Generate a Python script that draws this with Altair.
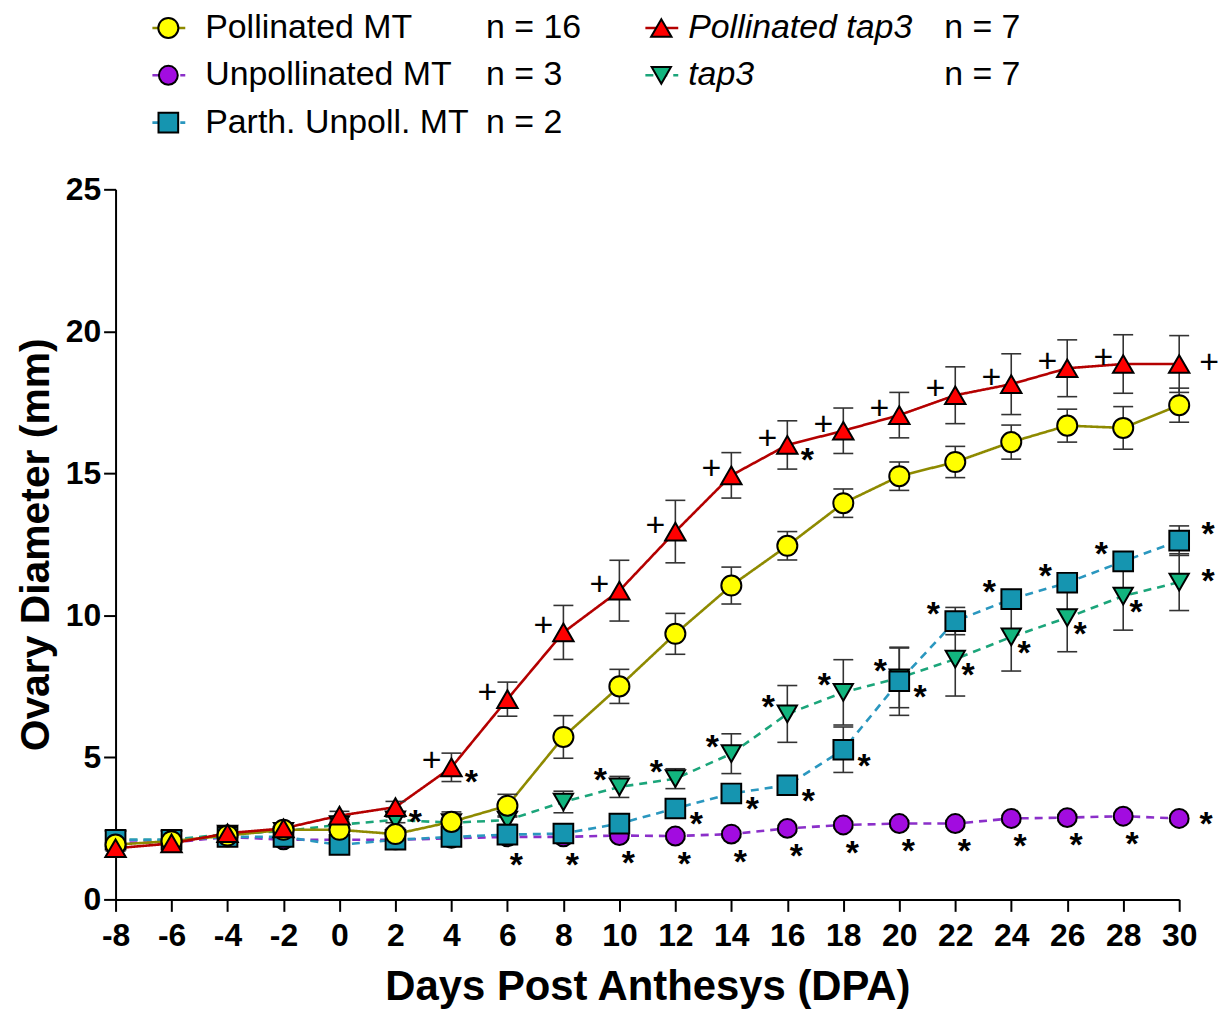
import altair as alt
import pandas as pd

# ---------------- data ----------------
dpa = list(range(-8, 31, 2))

series_names = ["Unpollinated MT", "tap3", "Parth. Unpoll. MT", "Pollinated MT", "Pollinated tap3"]

pollinated_mt = [1.93, 2.05, 2.25, 2.45, 2.45, 2.3, 2.73, 3.3, 5.72, 7.5, 9.35, 11.05, 12.45, 13.95, 14.9, 15.4, 16.1, 16.68, 16.6, 17.4]
pollinated_mt_err = [0.1, 0.1, 0.1, 0.1, 0.1, 0.2, 0.35, 0.4, 0.75, 0.6, 0.72, 0.65, 0.5, 0.5, 0.5, 0.55, 0.6, 0.58, 0.75, 0.6]

unpollinated_mt = [2.0, 2.0, 2.2, 2.1, 2.1, 2.1, 2.15, 2.2, 2.2, 2.25, 2.23, 2.3, 2.5, 2.62, 2.67, 2.67, 2.85, 2.88, 2.93, 2.85]
unpollinated_mt_err = [0.1] * 20

parth_mt = [2.1, 2.1, 2.2, 2.2, 1.92, 2.1, 2.2, 2.28, 2.32, 2.67, 3.2, 3.73, 4.02, 5.27, 7.68, 9.8, 10.57, 11.15, 11.9, 12.63]
parth_mt_err = [0.1, 0.1, 0.1, 0.1, 0.1, 0.1, 0.1, 0.1, 0.1, 0.15, 0.25, 0.2, 0.2, 0.8, 1.2, 0.48, 0.2, 0.2, 0.2, 0.52]

pollinated_tap3 = [1.8, 1.97, 2.33, 2.5, 2.95, 3.25, 4.65, 7.05, 9.4, 10.87, 12.95, 14.93, 16.0, 16.5, 17.05, 17.75, 18.14, 18.7, 18.85, 18.85]
pollinated_tap3_err = [0.1, 0.1, 0.1, 0.1, 0.15, 0.2, 0.5, 0.6, 0.95, 1.07, 1.1, 0.8, 0.85, 0.8, 0.8, 1.0, 1.07, 1.0, 1.03, 1.0]

tap3 = [2.1, 2.1, 2.3, 2.4, 2.63, 2.8, 2.7, 2.79, 3.43, 3.96, 4.25, 5.13, 6.53, 7.29, 7.8, 8.46, 9.24, 9.92, 10.68, 11.17]
tap3_err = [0.1, 0.1, 0.1, 0.1, 0.1, 0.1, 0.1, 0.15, 0.38, 0.37, 0.35, 0.7, 1.0, 1.15, 1.05, 1.3, 1.2, 1.2, 1.2, 1.0]

n_labels = {"Pollinated MT": "n = 16", "Unpollinated MT": "n = 3", "Parth. Unpoll. MT": "n = 2",
            "Pollinated tap3": "n = 7", "tap3": "n = 7"}

# annotation groups (DPA lists)
plus_tap3_ul = [4, 6, 8, 10, 12, 14, 16, 18, 20, 22, 24, 26, 28]
plus_tap3_r = [30]
star_tap3_lr = [2, 4, 16]
star_unpoll_b = [6, 8, 10, 12, 14, 16, 18, 20, 22, 24, 26, 28]
star_unpoll_r = [30]
star_parth_lr = [12, 14, 16, 18, 20]
star_parth_ul = [22, 24, 26, 28]
star_parth_ur = [30]
star_green_ul = [10, 12, 14, 16, 18, 20]
star_green_lr = [22, 24, 26, 28]
star_green_r = [30]

# ---------------- styles ----------------
shapes = {"Pollinated MT": "circle", "Unpollinated MT": "circle", "Parth. Unpoll. MT": "square",
          "Pollinated tap3": "triangle-up", "tap3": "triangle-down"}
fills = {"Pollinated MT": "#FFFF00", "Unpollinated MT": "#A20CE0", "Parth. Unpoll. MT": "#1595B0",
         "Pollinated tap3": "#FF0000", "tap3": "#12B57E"}
lines = {"Pollinated MT": "#8E8A00", "Unpollinated MT": "#8B2FC9", "Parth. Unpoll. MT": "#2A97BF",
         "Pollinated tap3": "#B40000", "tap3": "#1BA57A"}
dashes = {"Pollinated MT": [1, 0], "Unpollinated MT": [8, 6], "Parth. Unpoll. MT": [8, 6],
          "Pollinated tap3": [1, 0], "tap3": [8, 6]}
sizes = {"Pollinated MT": 360, "Unpollinated MT": 360, "Parth. Unpoll. MT": 350,
         "Pollinated tap3": 420, "tap3": 420}

values = {"Pollinated MT": pollinated_mt, "Unpollinated MT": unpollinated_mt, "Parth. Unpoll. MT": parth_mt,
          "Pollinated tap3": pollinated_tap3, "tap3": tap3}
errors = {"Pollinated MT": pollinated_mt_err, "Unpollinated MT": unpollinated_mt_err, "Parth. Unpoll. MT": parth_mt_err,
          "Pollinated tap3": pollinated_tap3_err, "tap3": tap3_err}

rows = []
for s in series_names:
    for d, v, e in zip(dpa, values[s], errors[s]):
        rows.append({"series": s, "dpa": d, "value": v, "lo": v - e, "hi": v + e})
df = pd.DataFrame(rows)

FONT = "Liberation Sans"
W, H = 1068, 713

xscale = alt.Scale(domain=[-8, 30], nice=False, zero=False)
yscale = alt.Scale(domain=[0, 25], nice=False, zero=True)

color_scale = alt.Scale(domain=series_names, range=[lines[s] for s in series_names])
dash_scale = alt.Scale(domain=series_names, range=[dashes[s] for s in series_names])
shape_scale = alt.Scale(domain=series_names, range=[shapes[s] for s in series_names])
fill_scale = alt.Scale(domain=series_names, range=[fills[s] for s in series_names])
size_scale = alt.Scale(domain=series_names, range=[sizes[s] for s in series_names])

x_enc = alt.X("dpa:Q", scale=xscale,
              axis=alt.Axis(values=dpa, title="Days Post Anthesys (DPA)", grid=False, labelFontSize=32,
                            labelFontWeight="bold", titleFontSize=42, titleFontWeight="bold",
                            tickSize=12, tickWidth=2, domainWidth=2, domainColor="black", tickColor="black",
                            labelColor="black", titleColor="black", labelPadding=9, titlePadding=16,
                            labelFont=FONT, titleFont=FONT, labelFlush=False, labelOverlap=False,
                            labelExpr="'' + datum.value"))
y_enc = alt.Y("value:Q", scale=yscale,
              axis=alt.Axis(values=[0, 5, 10, 15, 20, 25], title="Ovary Diameter (mm)", grid=False,
                            labelFontSize=32, labelFontWeight="bold", titleFontSize=41, titleFontWeight="bold",
                            tickSize=12, tickWidth=2, domainWidth=2, domainColor="black", tickColor="black",
                            labelColor="black", titleColor="black", labelPadding=3, titlePadding=8,
                            labelFont=FONT, titleFont=FONT, labelFlush=False))

base = alt.Chart(df)

line_layer = base.mark_line(strokeWidth=2.6).encode(
    x=x_enc, y=y_enc,
    color=alt.Color("series:N", scale=color_scale, legend=None),
    strokeDash=alt.StrokeDash("series:N", scale=dash_scale, legend=None),
)

err_rule = base.mark_rule(color="#333333", strokeWidth=1.6).encode(
    x=alt.X("dpa:Q", scale=xscale), y=alt.Y("lo:Q", scale=yscale), y2="hi:Q")
cap_hi = base.mark_rule(color="#333333", strokeWidth=1.6, xOffset=-10, x2Offset=10).encode(
    x=alt.X("dpa:Q", scale=xscale), x2="dpa:Q", y=alt.Y("hi:Q", scale=yscale))
cap_lo = base.mark_rule(color="#333333", strokeWidth=1.6, xOffset=-10, x2Offset=10).encode(
    x=alt.X("dpa:Q", scale=xscale), x2="dpa:Q", y=alt.Y("lo:Q", scale=yscale))

point_layer = base.mark_point(stroke="black", strokeWidth=2, opacity=1, fillOpacity=1, filled=False).encode(
    x=alt.X("dpa:Q", scale=xscale), y=alt.Y("value:Q", scale=yscale),
    shape=alt.Shape("series:N", scale=shape_scale, legend=None),
    fill=alt.Fill("series:N", scale=fill_scale, legend=None),
    size=alt.Size("series:N", scale=size_scale, legend=None),
)


def annot(series, days, symbol, ox, oy):
    sub = df[(df["series"] == series) & (df["dpa"].isin(days))]
    if symbol == "*":
        fs, lift, weight = 34, 19, "bold"
    else:
        fs, lift, weight = 34, 12, "normal"
    return alt.Chart(sub).mark_text(text=symbol, fontSize=fs, font=FONT, fontWeight=weight, color="black",
                                    align="center", baseline="alphabetic", dx=ox, dy=oy + lift).encode(
        x=alt.X("dpa:Q", scale=xscale), y=alt.Y("value:Q", scale=yscale))


annots = [
    annot("Pollinated tap3", plus_tap3_ul, "+", -20, -8),
    annot("Pollinated tap3", plus_tap3_r, "+", 30, -3),
    annot("Pollinated tap3", star_tap3_lr, "*", 20, 7),
    annot("Unpollinated MT", star_unpoll_b, "*", 9, 20),
    annot("Unpollinated MT", star_unpoll_r, "*", 27, -2),
    annot("Parth. Unpoll. MT", star_parth_lr, "*", 21, 8),
    annot("Parth. Unpoll. MT", star_parth_ul, "*", -22, -15),
    annot("Parth. Unpoll. MT", star_parth_ur, "*", 29, -15),
    annot("tap3", star_green_ul, "*", -19, -15),
    annot("tap3", star_green_lr, "*", 13, 8),
    annot("tap3", star_green_r, "*", 29, -9),
]

main = alt.layer(line_layer, err_rule, cap_hi, cap_lo, point_layer, *annots).properties(width=W, height=H)

# ---------------- legend panel ----------------
legend_order = ["Pollinated MT", "Unpollinated MT", "Parth. Unpoll. MT", "Pollinated tap3", "tap3"]
legend_col = [0, 0, 0, 1, 1]
legend_row = [0, 1, 2, 0, 1]
legend_italic = [False, False, False, True, True]
leg = pd.DataFrame({"series": legend_order, "col": legend_col, "row": legend_row,
                    "italic": legend_italic, "n": [n_labels[s] for s in legend_order]})

lx = alt.X("col:Q", scale=alt.Scale(domain=[0, 1], range=[53, 548]), axis=None)
ly = alt.Y("row:Q", scale=alt.Scale(domain=[0, 2], range=[18, 113]), axis=None)
lb = alt.Chart(leg)

leg_line = lb.mark_rule(strokeWidth=2.6, xOffset=-16, x2Offset=17).encode(
    x=lx, x2="col:Q", y=ly,
    color=alt.Color("series:N", scale=color_scale, legend=None),
    strokeDash=alt.StrokeDash("series:N", scale=dash_scale, legend=None),
)
leg_pt = lb.mark_point(stroke="black", strokeWidth=2, opacity=1, fillOpacity=1, filled=False).encode(
    x=lx, y=ly,
    shape=alt.Shape("series:N", scale=shape_scale, legend=None),
    fill=alt.Fill("series:N", scale=fill_scale, legend=None),
    size=alt.Size("series:N", scale=size_scale, legend=None),
)
leg_txt = lb.transform_filter("!datum.italic").mark_text(
    fontSize=34, font=FONT, align="left", baseline="middle", dx=37, color="black").encode(x=lx, y=ly, text="series:N")
leg_txt_it = lb.transform_filter("datum.italic").mark_text(
    fontSize=34, font=FONT, align="left", baseline="middle", dx=27, fontStyle="italic", color="black").encode(
    x=lx, y=ly, text="series:N")
leg_n = lb.mark_text(fontSize=34, font=FONT, align="left", baseline="middle", color="black").encode(
    x=alt.X("col:Q", scale=alt.Scale(domain=[0, 1], range=[372, 832]), axis=None), y=ly, text="n:N")

legend_panel = alt.layer(leg_line, leg_pt, leg_txt, leg_txt_it, leg_n).resolve_scale(x="independent").properties(
    width=W, height=140)

chart = alt.vconcat(legend_panel, main, spacing=24).properties(
    padding={"left": 7, "top": 0, "right": 5, "bottom": 5}
).configure(font=FONT).configure_view(stroke=None)

chart.save("out.html", embed_options={"renderer": "svg", "actions": False})
